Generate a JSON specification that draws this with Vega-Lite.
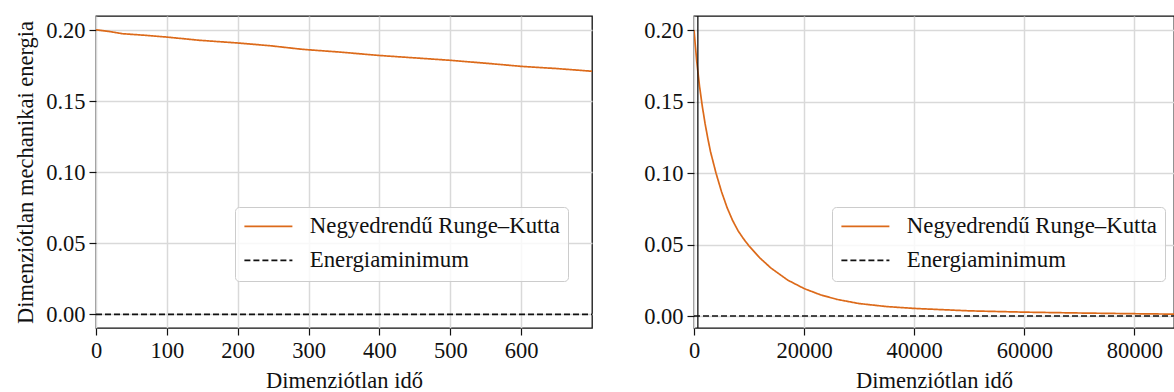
{
  "$schema": "https://vega.github.io/schema/vega-lite/v6.json",
  "padding": {"left": 13, "top": 14, "right": 0, "bottom": 0},
  "background": "white",
  "datasets": {
    "short_run": [
      {"t": 0, "E": 0.2004, "series": "Negyedrendű Runge–Kutta"},
      {"t": 20, "E": 0.1991, "series": "Negyedrendű Runge–Kutta"},
      {"t": 38, "E": 0.1976, "series": "Negyedrendű Runge–Kutta"},
      {"t": 70, "E": 0.1965, "series": "Negyedrendű Runge–Kutta"},
      {"t": 99, "E": 0.1953, "series": "Negyedrendű Runge–Kutta"},
      {"t": 146, "E": 0.1930, "series": "Negyedrendű Runge–Kutta"},
      {"t": 200, "E": 0.1911, "series": "Negyedrendű Runge–Kutta"},
      {"t": 245, "E": 0.1892, "series": "Negyedrendű Runge–Kutta"},
      {"t": 292, "E": 0.1866, "series": "Negyedrendű Runge–Kutta"},
      {"t": 344, "E": 0.1847, "series": "Negyedrendű Runge–Kutta"},
      {"t": 400, "E": 0.1823, "series": "Negyedrendű Runge–Kutta"},
      {"t": 450, "E": 0.1806, "series": "Negyedrendű Runge–Kutta"},
      {"t": 500, "E": 0.1789, "series": "Negyedrendű Runge–Kutta"},
      {"t": 556, "E": 0.1766, "series": "Negyedrendű Runge–Kutta"},
      {"t": 601, "E": 0.1746, "series": "Negyedrendű Runge–Kutta"},
      {"t": 650, "E": 0.1731, "series": "Negyedrendű Runge–Kutta"},
      {"t": 700, "E": 0.1712, "series": "Negyedrendű Runge–Kutta"},
      {"t": 0, "E": 0, "series": "Energiaminimum"},
      {"t": 700, "E": 0, "series": "Energiaminimum"}
    ],
    "long_run": [
      {"t": 0, "E": 0.2000, "series": "Negyedrendű Runge–Kutta"},
      {"t": 500, "E": 0.1782, "series": "Negyedrendű Runge–Kutta"},
      {"t": 1000, "E": 0.1610, "series": "Negyedrendű Runge–Kutta"},
      {"t": 1500, "E": 0.1470, "series": "Negyedrendű Runge–Kutta"},
      {"t": 2000, "E": 0.1350, "series": "Negyedrendű Runge–Kutta"},
      {"t": 2500, "E": 0.1245, "series": "Negyedrendű Runge–Kutta"},
      {"t": 3000, "E": 0.1150, "series": "Negyedrendű Runge–Kutta"},
      {"t": 4000, "E": 0.1000, "series": "Negyedrendű Runge–Kutta"},
      {"t": 5000, "E": 0.0870, "series": "Negyedrendű Runge–Kutta"},
      {"t": 6000, "E": 0.0760, "series": "Negyedrendű Runge–Kutta"},
      {"t": 7000, "E": 0.0670, "series": "Negyedrendű Runge–Kutta"},
      {"t": 8000, "E": 0.0597, "series": "Negyedrendű Runge–Kutta"},
      {"t": 9000, "E": 0.0540, "series": "Negyedrendű Runge–Kutta"},
      {"t": 10000, "E": 0.0490, "series": "Negyedrendű Runge–Kutta"},
      {"t": 12000, "E": 0.0405, "series": "Negyedrendű Runge–Kutta"},
      {"t": 14000, "E": 0.0335, "series": "Negyedrendű Runge–Kutta"},
      {"t": 17000, "E": 0.0252, "series": "Negyedrendű Runge–Kutta"},
      {"t": 20000, "E": 0.0192, "series": "Negyedrendű Runge–Kutta"},
      {"t": 23000, "E": 0.0148, "series": "Negyedrendű Runge–Kutta"},
      {"t": 26000, "E": 0.0116, "series": "Negyedrendű Runge–Kutta"},
      {"t": 30000, "E": 0.0087, "series": "Negyedrendű Runge–Kutta"},
      {"t": 35000, "E": 0.0066, "series": "Negyedrendű Runge–Kutta"},
      {"t": 40000, "E": 0.0053, "series": "Negyedrendű Runge–Kutta"},
      {"t": 50000, "E": 0.0036, "series": "Negyedrendű Runge–Kutta"},
      {"t": 60000, "E": 0.0027, "series": "Negyedrendű Runge–Kutta"},
      {"t": 70000, "E": 0.0021, "series": "Negyedrendű Runge–Kutta"},
      {"t": 80000, "E": 0.0016, "series": "Negyedrendű Runge–Kutta"},
      {"t": 87200, "E": 0.0013, "series": "Negyedrendű Runge–Kutta"},
      {"t": 0, "E": 0, "series": "Energiaminimum"},
      {"t": 87200, "E": 0, "series": "Energiaminimum"}
    ],
    "short_run_end": [{"t": 700}]
  },
  "config": {
    "font": "Liberation Serif, Times New Roman, DejaVu Serif, serif",
    "view": {"stroke": "#111111", "strokeWidth": 1.3},
    "axis": {
      "labelFont": "Liberation Serif, Times New Roman, DejaVu Serif, serif",
      "titleFont": "Liberation Serif, Times New Roman, DejaVu Serif, serif",
      "labelFontSize": 22.5,
      "titleFontSize": 22.5,
      "titleFontWeight": "normal",
      "labelColor": "#111111",
      "titleColor": "#111111",
      "tickColor": "#111111",
      "tickSize": 7,
      "tickWidth": 1.2,
      "domain": false,
      "grid": true,
      "gridColor": "#d9d9d9",
      "gridWidth": 1.5,
      "labelPadding": 4,
      "labelFlush": false,
      "labelOverlap": false,
      "titlePadding": 8
    },
    "legend": {
      "labelFont": "Liberation Serif, Times New Roman, DejaVu Serif, serif",
      "labelFontSize": 22.8,
      "labelColor": "#111111",
      "labelLimit": 500
    }
  },
  "spacing": 49,
  "resolve": {
    "scale": {"x": "independent", "y": "independent", "color": "independent", "strokeDash": "independent"},
    "legend": {"color": "independent", "strokeDash": "independent"}
  },
  "hconcat": [
    {
      "width": 496,
      "height": 312,
      "data": {"name": "short_run"},
      "mark": {"type": "line", "strokeWidth": 1.7, "clip": true},
      "encoding": {
        "x": {
          "field": "t", "type": "quantitative",
          "scale": {"domain": [0, 700], "nice": false, "zero": false},
          "axis": {"title": "Dimenziótlan idő", "values": [0, 100, 200, 300, 400, 500, 600], "format": "d"}
        },
        "y": {
          "field": "E", "type": "quantitative",
          "scale": {"domain": [-0.0096, 0.2101], "nice": false, "zero": false},
          "axis": {"title": "Dimenziótlan mechanikai energia", "values": [0, 0.05, 0.1, 0.15, 0.2], "format": ".2f"}
        },
        "color": {
          "field": "series", "type": "nominal",
          "scale": {"domain": ["Negyedrendű Runge–Kutta", "Energiaminimum"], "range": ["#dc6a1a", "#111111"]},
          "legend": {"title": null, "orient": "none", "legendX": 139, "legendY": 191, "symbolType": "M-1,0H3.8", "symbolSize": 400, "symbolStrokeWidth": 1.7, "symbolOffset": 0, "padding": 8, "rowPadding": 10, "labelOffset": 44, "fillColor": "rgba(255,255,255,0.8)", "strokeColor": "#cccccc", "cornerRadius": 4}
        },
        "strokeDash": {
          "field": "series", "type": "nominal",
          "scale": {"domain": ["Negyedrendű Runge–Kutta", "Energiaminimum"], "range": [[1, 0], [6, 3]]},
          "legend": {"title": null, "orient": "none", "legendX": 139, "legendY": 191, "symbolType": "M-1,0H3.8", "symbolSize": 400, "symbolStrokeWidth": 1.7, "symbolOffset": 0, "padding": 8, "rowPadding": 10, "labelOffset": 44, "fillColor": "rgba(255,255,255,0.8)", "strokeColor": "#cccccc", "cornerRadius": 4}
        }
      }
    },
    {
      "width": 480,
      "height": 312,
      "layer": [
        {
          "data": {"name": "long_run"},
          "mark": {"type": "line", "strokeWidth": 1.7, "clip": true},
          "encoding": {
            "x": {
              "field": "t", "type": "quantitative",
              "scale": {"domain": [0, 87200], "nice": false, "zero": false},
              "axis": {"title": "Dimenziótlan idő", "values": [0, 20000, 40000, 60000, 80000], "format": "d"}
            },
            "y": {
              "field": "E", "type": "quantitative",
              "scale": {"domain": [-0.0084, 0.2100], "nice": false, "zero": false},
              "axis": {"title": null, "values": [0, 0.05, 0.1, 0.15, 0.2], "format": ".2f"}
            },
            "color": {
              "field": "series", "type": "nominal",
              "scale": {"domain": ["Negyedrendű Runge–Kutta", "Energiaminimum"], "range": ["#dc6a1a", "#111111"]},
              "legend": {"title": null, "orient": "none", "legendX": 138, "legendY": 191, "symbolType": "M-1,0H3.8", "symbolSize": 400, "symbolStrokeWidth": 1.7, "symbolOffset": 0, "padding": 8, "rowPadding": 10, "labelOffset": 44, "fillColor": "rgba(255,255,255,0.8)", "strokeColor": "#cccccc", "cornerRadius": 4}
            },
            "strokeDash": {
              "field": "series", "type": "nominal",
              "scale": {"domain": ["Negyedrendű Runge–Kutta", "Energiaminimum"], "range": [[1, 0], [6, 3]]},
              "legend": {"title": null, "orient": "none", "legendX": 138, "legendY": 191, "symbolType": "M-1,0H3.8", "symbolSize": 400, "symbolStrokeWidth": 1.7, "symbolOffset": 0, "padding": 8, "rowPadding": 10, "labelOffset": 44, "fillColor": "rgba(255,255,255,0.8)", "strokeColor": "#cccccc", "cornerRadius": 4}
            }
          }
        },
        {
          "data": {"name": "short_run_end"},
          "mark": {"type": "rule", "color": "#111111", "strokeWidth": 1.3},
          "encoding": {
            "x": {"field": "t", "type": "quantitative"}
          }
        }
      ]
    }
  ]
}
